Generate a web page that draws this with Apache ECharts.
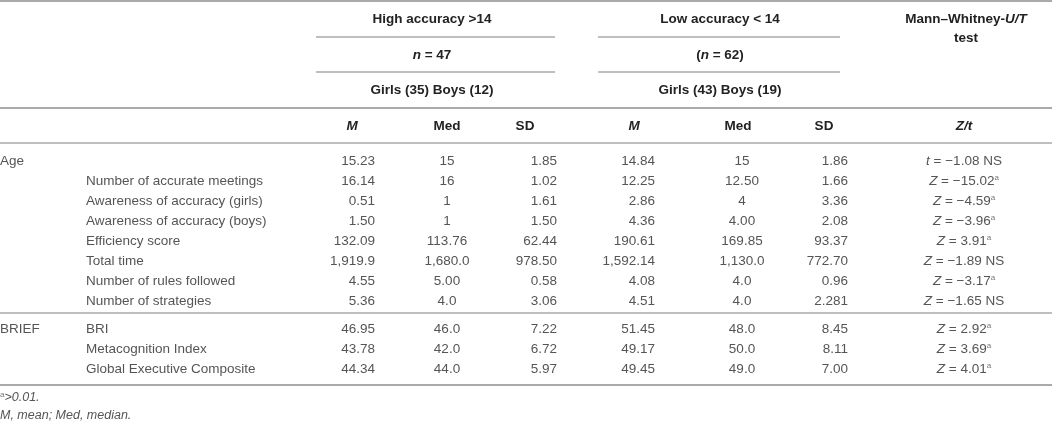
<!DOCTYPE html>
<html lang="en">
<head>
    <meta charset="UTF-8">
    <title>High vs low accuracy</title>
    <style>
        html, body { margin: 0; padding: 0; background: #fff; }
        #main { width: 1052px; height: 426px; }
    </style>
</head>
<body>
    <div id="main"></div>
    <script src="https://cdn.jsdelivr.net/npm/echarts@6/dist/echarts.min.js"></script>
    <script>
        // table content
        var groupLabels = ['Age', '', '', '', '', '', '', '', 'BRIEF', '', ''];
        var measures = ['', 'Number of accurate meetings', 'Awareness of accuracy (girls)', 'Awareness of accuracy (boys)',
            'Efficiency score', 'Total time', 'Number of rules followed', 'Number of strategies',
            'BRI', 'Metacognition Index', 'Global Executive Composite'];
        var highM = ['15.23', '16.14', '0.51', '1.50', '132.09', '1,919.9', '4.55', '5.36', '46.95', '43.78', '44.34'];
        var highMed = ['15', '16', '1', '1', '113.76', '1,680.0', '5.00', '4.0', '46.0', '42.0', '44.0'];
        var highSD = ['1.85', '1.02', '1.61', '1.50', '62.44', '978.50', '0.58', '3.06', '7.22', '6.72', '5.97'];
        var lowM = ['14.84', '12.25', '2.86', '4.36', '190.61', '1,592.14', '4.08', '4.51', '51.45', '49.17', '49.45'];
        var lowMed = ['15', '12.50', '4', '4.00', '169.85', '1,130.0', '4.0', '4.0', '48.0', '50.0', '49.0'];
        var lowSD = ['1.86', '1.66', '3.36', '2.08', '93.37', '772.70', '0.96', '2.281', '8.45', '8.11', '7.00'];
        var testLetter = ['t', 'Z', 'Z', 'Z', 'Z', 'Z', 'Z', 'Z', 'Z', 'Z', 'Z'];
        var testValue = ['−1.08', '−15.02', '−4.59', '−3.96', '3.91', '−1.89', '−3.17', '−1.65', '2.92', '3.69', '4.01'];
        var testNote = ['NS', 'a', 'a', 'a', 'a', 'NS', 'a', 'NS', 'a', 'a', 'a'];

        var groupHeaders = ['High accuracy >14', 'Low accuracy < 14'];
        var sampleSizes = ['{bi|n} = 47', '({bi|n} = 62)'];
        var genderSplits = ['Girls (35) Boys (12)', 'Girls (43) Boys (19)'];
        var statHeaders = ['{bi|M}', 'Med', 'SD', '{bi|M}', 'Med', 'SD', '{bi|Z/t}'];
        var testHeader = ['Mann–Whitney-{bi|U/T}', 'test'];
        var footnotes = ['{sup|a}{it|>0.01.}', '{it|M, mean; Med, median.}'];

        var FONT = '"Liberation Sans", Arial, sans-serif';
        var BODY = '#555', HEAD = '#222', RULE = '#aaa';

        // column anchors (x in axis units == pixels) and text alignment
        var cols = [
            { x: 0, align: 'left' },
            { x: 86, align: 'left' },
            { x: 375, align: 'right' },
            { x: 447, align: 'center' },
            { x: 557, align: 'right' },
            { x: 655, align: 'right' },
            { x: 742, align: 'center' },
            { x: 848, align: 'right' },
            { x: 964, align: 'center' }
        ];

        var rich = {
            i: { fontStyle: 'italic', fontFamily: FONT, fontSize: 13.5, fill: BODY },
            sup: { fontSize: 8, fontFamily: FONT, fill: '#777', padding: [0, 0, 7, 0] },
            bi: { fontStyle: 'italic', fontWeight: 'bold', fontFamily: FONT, fontSize: 13.5, fill: HEAD },
            it: { fontStyle: 'italic', fontFamily: FONT, fontSize: 12.5, fill: BODY }
        };

        function testText(i) {
            var s = '{i|' + testLetter[i] + '} = ' + testValue[i];
            return testNote[i] === 'a' ? s + '{sup|a}' : s + ' ' + testNote[i];
        }

        // build cells for rows [from, to)
        function buildCells(from, to) {
            var cells = [];
            for (var r = from; r < to; r++) {
                var row = [groupLabels[r], measures[r], highM[r], highMed[r], highSD[r],
                    lowM[r], lowMed[r], lowSD[r], testText(r)];
                for (var c = 0; c < row.length; c++) {
                    if (!row[c]) continue;
                    cells.push({ value: [cols[c].x, r - from, c], text: row[c] });
                }
            }
            return cells;
        }

        function makeSeries(idx, cells) {
            return {
                type: 'custom',
                xAxisIndex: idx,
                yAxisIndex: idx,
                silent: true,
                encode: { x: 0, y: 1 },
                data: cells.map(function (d) { return d.value; }),
                renderItem: function (params, api) {
                    var p = api.coord([api.value(0), api.value(1)]);
                    var col = cols[api.value(2)];
                    return {
                        type: 'text',
                        x: p[0],
                        y: p[1],
                        style: {
                            text: cells[params.dataIndex].text,
                            fill: BODY,
                            font: '13.5px ' + FONT,
                            align: col.align,
                            verticalAlign: 'middle',
                            rich: rich
                        }
                    };
                }
            };
        }

        var cellsA = buildCells(0, 8);
        var cellsB = buildCells(8, 11);

        function headText(txt, x, y, bold, align) {
            return {
                type: 'text',
                x: x,
                y: y,
                silent: true,
                style: {
                    text: txt,
                    fill: bold ? HEAD : BODY,
                    font: (bold ? 'bold ' : '') + '13.5px ' + FONT,
                    align: align || 'center',
                    verticalAlign: 'middle',
                    rich: rich
                }
            };
        }
        function rule(x1, x2, y, w) {
            return {
                type: 'line', silent: true,
                shape: { x1: x1, y1: y, x2: x2, y2: y },
                style: { stroke: RULE, lineWidth: w || 1.5 }
            };
        }

        var groupX = [432, 720];
        var statX = [352, 447, 525, 634, 738, 824, 964];
        var graphics = [
            rule(0, 1052, 1, 2), rule(316, 555, 37), rule(598, 840, 37),
            rule(316, 555, 72), rule(598, 840, 72), rule(0, 1052, 108, 2),
            rule(0, 1052, 143), rule(0, 1052, 313), rule(0, 1052, 385, 2)
        ];
        for (var g = 0; g < 2; g++) {
            graphics.push(headText(groupHeaders[g], groupX[g], 19, true));
            graphics.push(headText(sampleSizes[g], groupX[g], 55, true));
            graphics.push(headText(genderSplits[g], groupX[g], 90, true));
        }
        graphics.push(headText(testHeader[0], 966, 19, true));
        graphics.push(headText(testHeader[1], 966, 38, true));
        for (var s = 0; s < statHeaders.length; s++) {
            graphics.push(headText(statHeaders[s], statX[s], 126, true));
        }
        graphics.push(headText(footnotes[0], 0, 398, false, 'left'));
        graphics.push(headText(footnotes[1], 0, 416, false, 'left'));

        var myChart = echarts.init(document.getElementById('main'));
        var option = {
            animation: false,
            grid: [
                { left: 0, right: 0, top: 151, height: 160 },
                { left: 0, right: 0, top: 319, height: 60 }
            ],
            xAxis: [
                { gridIndex: 0, type: 'value', min: 0, max: 1052, show: false },
                { gridIndex: 1, type: 'value', min: 0, max: 1052, show: false }
            ],
            yAxis: [
                { gridIndex: 0, type: 'category', inverse: true, show: false, data: measures.slice(0, 8).map(function (m, i) { return i; }) },
                { gridIndex: 1, type: 'category', inverse: true, show: false, data: measures.slice(8).map(function (m, i) { return i; }) }
            ],
            graphic: graphics,
            series: [makeSeries(0, cellsA), makeSeries(1, cellsB)]
        };
        myChart.setOption(option);
    </script>
</body>
</html>
